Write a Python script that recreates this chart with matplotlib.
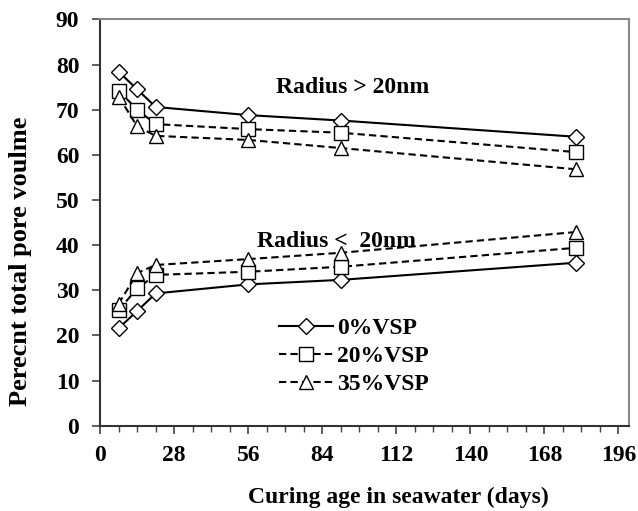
import matplotlib
matplotlib.use('Agg')
import matplotlib.pyplot as plt
from matplotlib.ticker import MultipleLocator

# curing age (days)
days = [7, 14, 21, 56, 91, 180]

# radius > 20nm
big_0 = [78.4, 74.5, 70.6, 68.8, 67.6, 64.0]
big_20 = [74.2, 70.0, 66.8, 65.7, 64.9, 60.6]
big_35 = [72.9, 66.3, 64.2, 63.3, 61.5, 56.8]

# radius < 20nm
small_0 = [21.6, 25.4, 29.3, 31.3, 32.3, 36.1]
small_20 = [25.6, 30.4, 33.4, 34.1, 35.2, 39.4]
small_35 = [27.0, 33.8, 35.6, 36.9, 38.3, 42.9]

labels = ['0%VSP', '20%VSP', '35%VSP']
x_ticks = [0, 28, 56, 84, 112, 140, 168, 196]

plt.rcParams['font.family'] = ['Liberation Serif', 'DejaVu Serif']
plt.rcParams['font.weight'] = 'bold'

fig = plt.figure(figsize=(6.38, 5.11), dpi=100)
ax = fig.add_axes([0.157, 0.167, 0.829, 0.795])

dash = (0, (3.5, 2))
styles = [
    dict(marker='D', linestyle='-', markersize=8.5),
    dict(marker='s', linestyle=dash, markersize=10),
    dict(marker='^', linestyle=dash, markersize=10),
]

handles = []
for i, (top, bot) in enumerate([(big_0, small_0), (big_20, small_20), (big_35, small_35)]):
    st = styles[i]
    h, = ax.plot(days, top, color='black', linewidth=1.5, marker=st['marker'],
                 linestyle=st['linestyle'], markersize=st['markersize'],
                 markerfacecolor='white', markeredgecolor='black', markeredgewidth=1.0,
                 label=labels[i])
    ax.plot(days, bot, color='black', linewidth=1.5, marker=st['marker'],
            linestyle=st['linestyle'], markersize=st['markersize'],
            markerfacecolor='white', markeredgecolor='black', markeredgewidth=1.0)
    handles.append(h)

ax.text(66.5, 75, 'Radius > 20nm', fontsize=17, fontweight='bold', va='center', ha='left')
ax.text(59.3, 40.9, 'Radius <  20nm', fontsize=17, fontweight='bold', va='center', ha='left')

leg = ax.legend(handles=handles, loc='upper left', bbox_to_anchor=(0.32, 0.29),
                frameon=False, fontsize=17, handlelength=2.3, handletextpad=0.15,
                labelspacing=0.28, borderaxespad=0)
for t in leg.get_texts():
    t.set_fontweight('bold')

ax.set_xlim(0, 200)
ax.set_ylim(0, 90)
ax.set_xticks(x_ticks)
ax.xaxis.set_minor_locator(MultipleLocator(7))
ax.yaxis.set_major_locator(MultipleLocator(10))

ax.tick_params(axis='both', which='major', direction='out', length=6, width=1.2,
               labelsize=17, color='#444444')
ax.tick_params(axis='x', which='minor', direction='out', length=4, width=1.0, color='#444444')
ax.tick_params(axis='x', pad=8)
ax.tick_params(axis='y', pad=9)
for lab in ax.get_xticklabels() + ax.get_yticklabels():
    lab.set_fontweight('bold')

for side in ['left', 'bottom']:
    ax.spines[side].set_color('#333333')
    ax.spines[side].set_linewidth(1.5)
for side in ['top', 'right']:
    ax.spines[side].set_color('#888888')
    ax.spines[side].set_linewidth(1.5)

ax.set_xlabel('Curing age in seawater (days)', fontsize=17, fontweight='bold')
ax.set_ylabel('Perecnt total pore voulme', fontsize=19, fontweight='bold')
ax.xaxis.set_label_coords(0.563, -0.15)
ax.yaxis.set_label_coords(-0.151, 0.404)
ax.yaxis.label.set_va('center')

fig.savefig('out.png', dpi=100)
